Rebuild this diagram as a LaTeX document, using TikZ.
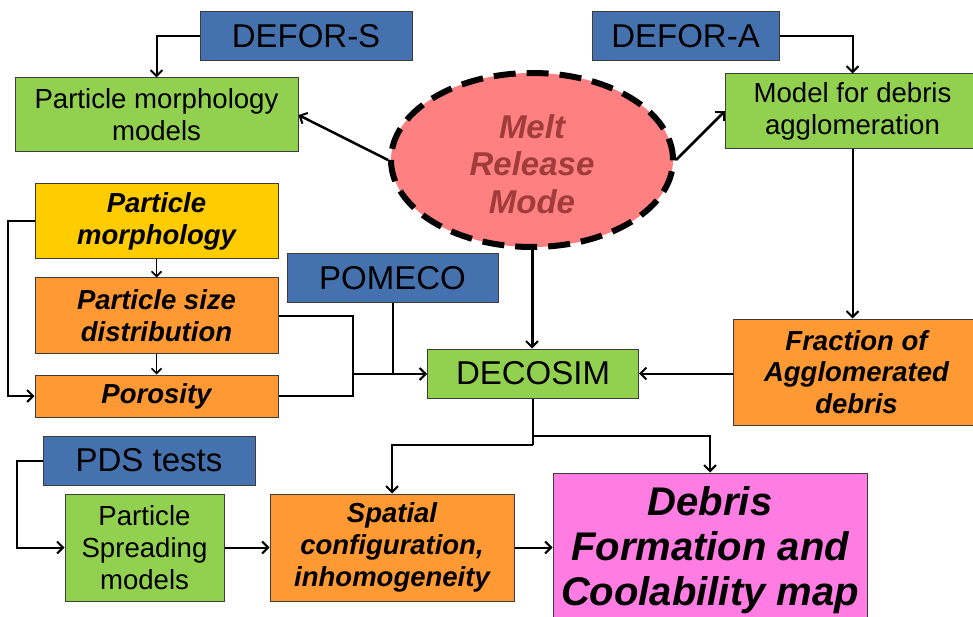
\documentclass[tikz,border=0pt]{standalone}
\usepackage{fontspec}
\setmainfont{Liberation Sans}
\usetikzlibrary{arrows.meta,shapes.geometric,calc}
\definecolor{cblue}{RGB}{69,114,174}
\definecolor{cgreen}{RGB}{146,208,80}
\definecolor{cyellow}{RGB}{255,204,0}
\definecolor{corange}{RGB}{255,153,51}
\definecolor{cpink}{RGB}{255,125,227}
\definecolor{cellipse}{RGB}{255,128,128}
\definecolor{cmelt}{RGB}{160,60,58}
\definecolor{cborder}{RGB}{60,60,60}
\tikzset{
  box/.style={draw=cborder, line width=1pt, inner sep=0pt, align=center, text=black},
  bluebox/.style={box, fill=cblue, font=\fontsize{33}{37}\selectfont},
  greenbox/.style={box, fill=cgreen, font=\fontsize{27.6}{31.8}\selectfont},
  yellowbox/.style={box, fill=cyellow, font=\fontsize{27.5}{31.8}\selectfont\bfseries\itshape},
  orangebox/.style={box, fill=corange, font=\fontsize{27.5}{31.8}\selectfont\bfseries\itshape},
  pinkbox/.style={box, fill=cpink, font=\fontsize{40}{45}\selectfont\bfseries\itshape},
  arr/.style={line width=2pt, -{Straight Barb[length=6pt,width=12pt,line width=2pt]}},
  arrs/.style={line width=1.6pt, -{Straight Barb[length=5pt,width=10pt,line width=1.6pt]}},
  conn/.style={line width=2pt},
}
\begin{document}
\begin{tikzpicture}[x=1pt,y=-1pt]
\useasboundingbox (0,0) rectangle (973,617);
\clip (0,0) rectangle (973,617);
% nodes
\node[bluebox, minimum width=212, minimum height=49] (defors) at (306,36) {DEFOR-S};
\node[bluebox, minimum width=187, minimum height=49] (defora) at (685.5,36) {DEFOR-A};
\node[greenbox, minimum width=283, minimum height=74] (pmm) at (156.5,115) {Particle morphology\\models};
\node[greenbox, minimum width=255, minimum height=75] (mda) at (852.5,111.5) {Model for debris\\agglomeration};
\node[ellipse, draw=black, fill=cellipse, line width=6pt, dash pattern=on 22pt off 11pt,
      minimum width=282, minimum height=174, inner sep=0pt] (mrm) at (532,160) {};
\node[align=center, inner sep=0pt, text=cmelt, font=\fontsize{33}{37.5}\selectfont\bfseries\itshape] (mrmtext) at (532,164) {Melt\\Release\\Mode};
\node[yellowbox, minimum width=243, minimum height=75] (pm) at (156.5,221.5) {Particle\\morphology};
\node[orangebox, minimum width=243, minimum height=75] (psd) at (156.5,315.5) {Particle size\\distribution};
\node[orangebox, minimum width=243, minimum height=42] (por) at (156.5,396) {Porosity};
\node[bluebox, minimum width=211, minimum height=48] (pomeco) at (392.5,278) {POMECO};
\node[greenbox, font=\fontsize{33}{37}\selectfont, minimum width=211, minimum height=49] (decosim) at (533,373.5) {DECOSIM};
\node[orangebox, minimum width=247, minimum height=106] (frac) at (856.5,372) {Fraction of\\Agglomerated\\debris};
\node[bluebox, minimum width=212, minimum height=49] (pds) at (149,460.5) {PDS tests};
\node[greenbox, minimum width=159, minimum height=107] (psm) at (144.5,547.5) {Particle\\Spreading\\models};
\node[orangebox, minimum width=244, minimum height=107] (spat) at (392,547.5) {Spatial\\configuration,\\inhomogeneity};
\node[pinkbox, minimum width=314, minimum height=155] (dfc) at (710,550.5) {Debris\\Formation and\\Coolability map};
% junctions
\coordinate (jx) at (353,374);
\coordinate (jl) at (533,445);
\coordinate (jr) at (533,436);
% connectors
\draw[arr] (defors.west) -| (pmm.north);
\draw[arr] (defora.east) -| (mda.north);
\draw[arr, line width=2.5pt] (mrm.west) -- (pmm.east);
\draw[arr, line width=2.5pt] (mrm.east) -- (mda.west);
\draw[arr, line width=3pt] (mrm.south) -- (mrm.south |- decosim.north);
\draw[arr] (mda.south) -- (mda.south |- frac.north);
\draw[arr] (frac.west |- decosim.east) -- (decosim.east);
\draw[conn] (decosim.south) -- (jl);
\draw[arr] (jl) -| (spat.north);
\draw[arr] (jr) -| (dfc.north);
\draw[arr] (pds.west) -- ++(-26,0) |- (psm.west);
\draw[arr] (psm.east) -- (spat.west);
\draw[arr] (spat.east) -- (spat.east -| dfc.west);
\draw[arr] (pm.west) -- ++(-27,0) |- (por.west);
\draw[arrs] (pm.south) -- (psd.north);
\draw[arrs] (psd.south) -- (por.north);
\draw[conn] (psd.east) -| (jx) |- (por.east);
\draw[conn] (pomeco.south) -- (pomeco.south |- jx);
\draw[arr] (jx) -- (jx -| decosim.west);
\end{tikzpicture}
\end{document}
